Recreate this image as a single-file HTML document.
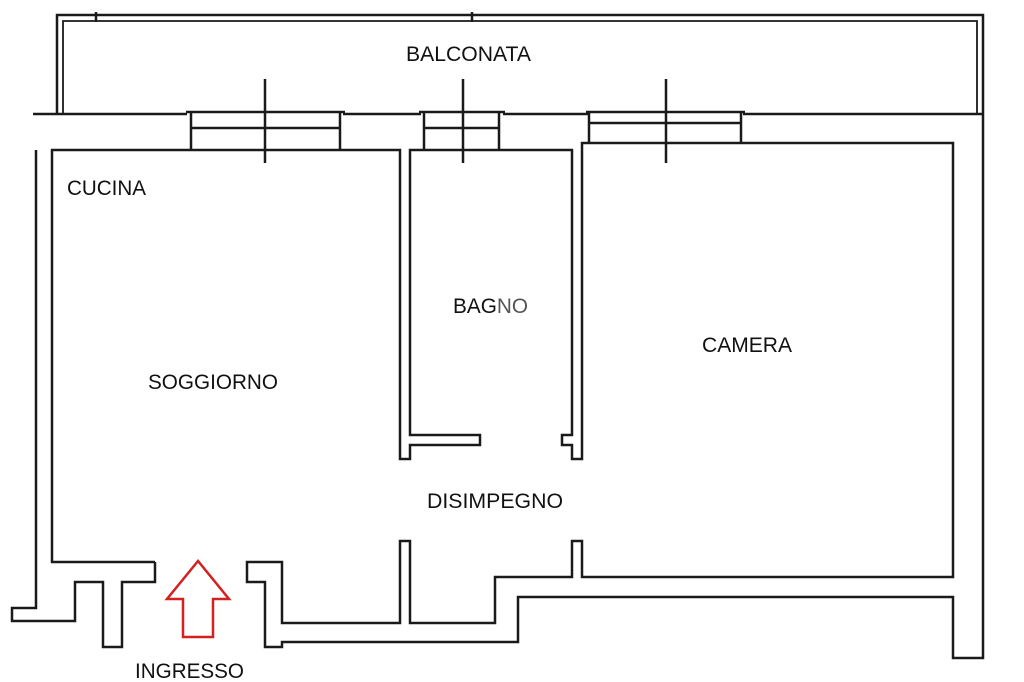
<!DOCTYPE html>
<html><head><meta charset="utf-8"><style>html,body{margin:0;padding:0;background:#fff}svg{display:block}</style></head>
<body>
<svg width="1024" height="682" viewBox="0 0 1024 682" xmlns="http://www.w3.org/2000/svg">
<g fill="none" stroke="#1a1a1a" stroke-width="2.5" stroke-linejoin="miter">
<polyline points="57,114 57,15 983,15 983,114"/>
<polyline points="63,114 63,21 977,21 977,114" stroke-width="1.8"/>
<line x1="96" y1="12" x2="96" y2="22"/>
<line x1="472" y1="12" x2="472" y2="22"/>
<line x1="33" y1="114" x2="187" y2="114"/>
<line x1="343" y1="114" x2="421" y2="114"/>
<line x1="503" y1="114" x2="588" y2="114"/>
<line x1="743" y1="114" x2="983" y2="114"/>
<line x1="186" y1="112" x2="345" y2="112"/>
<line x1="191" y1="128" x2="340" y2="128"/>
<line x1="191" y1="112" x2="191" y2="150"/>
<line x1="340" y1="112" x2="340" y2="150"/>
<line x1="265" y1="79" x2="265" y2="163"/>
<line x1="419" y1="112" x2="505" y2="112"/>
<line x1="424" y1="128" x2="499" y2="128"/>
<line x1="424" y1="112" x2="424" y2="150"/>
<line x1="499" y1="112" x2="499" y2="150"/>
<line x1="463" y1="79" x2="463" y2="163"/>
<line x1="586" y1="112" x2="745" y2="112"/>
<line x1="589" y1="123" x2="741" y2="123"/>
<line x1="589" y1="112" x2="589" y2="143"/>
<line x1="741" y1="112" x2="741" y2="143"/>
<line x1="666" y1="79" x2="666" y2="163"/>
<polyline points="155,562 52,562 52,150 400,150 400,459 410,459 410,445 480,445 480,435 410,435 410,150 572,150 572,435 562,435 562,445 572,445 572,459 582,459 582,143 953,143 953,577 582,577 582,541 572,541 572,577 495,577 495,623 410,623 410,541 400,541 400,623 282,623 282,562 247,562 247,582 265,582 265,647 282,647 282,642 518,642 518,597 953,597 953,658 983,658 983,114"/>
<polyline points="155,562 155,582 122,582 122,647 103,647 103,582 75,582 75,621 12,621 12,608 36,608 36,150"/>
</g>
<polygon points="198,561 167,599 183,599 183,637 213,637 213,599 229,599" fill="none" stroke="#d42020" stroke-width="2.5"/>
<g font-family="Liberation Sans, sans-serif" font-size="21" fill="#111">
<text x="406" y="61" textLength="125" lengthAdjust="spacingAndGlyphs">BALCONATA</text>
<text x="67" y="195" textLength="79" lengthAdjust="spacingAndGlyphs">CUCINA</text>
<text x="148" y="389" textLength="130" lengthAdjust="spacingAndGlyphs">SOGGIORNO</text>
<text x="453" y="313" textLength="75" lengthAdjust="spacingAndGlyphs">BAG<tspan fill="#555">NO</tspan></text>
<text x="702" y="352" textLength="90" lengthAdjust="spacingAndGlyphs">CAMERA</text>
<text x="427" y="508" textLength="136" lengthAdjust="spacingAndGlyphs">DISIMPEGNO</text>
<text x="135" y="678" textLength="109" lengthAdjust="spacingAndGlyphs">INGRESSO</text>
</g>
</svg>
</body></html>
